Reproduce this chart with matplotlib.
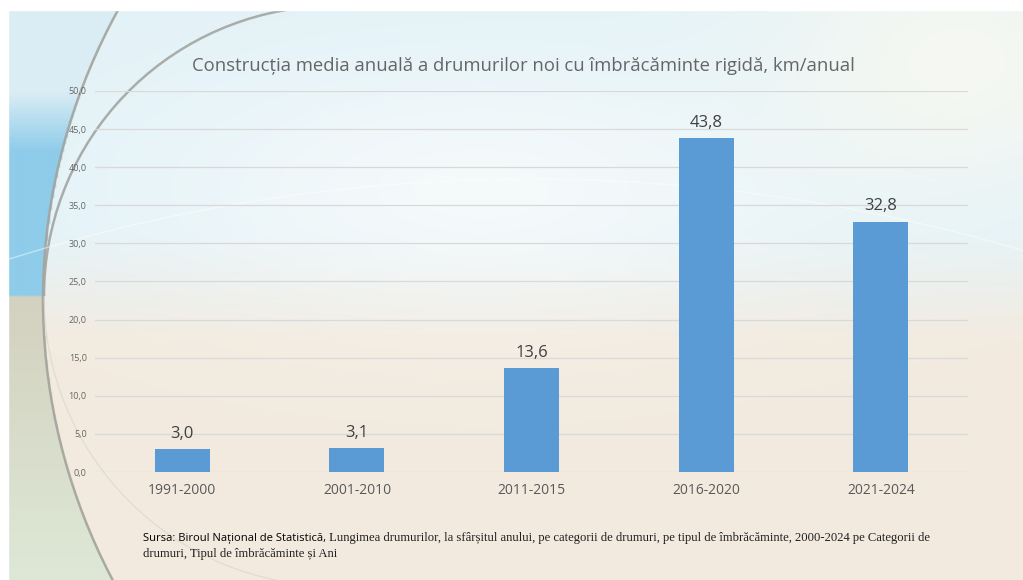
import numpy as np
import matplotlib.pyplot as plt
from matplotlib.patches import Ellipse, Arc

periods = ["1991-2000", "2001-2010", "2011-2015", "2016-2020", "2021-2024"]
km_per_year = [3.0, 3.1, 13.6, 43.8, 32.8]
y_ticks = [0, 5, 10, 15, 20, 25, 30, 35, 40, 45, 50]

title = "Construcția media anuală a drumurilor noi cu îmbrăcăminte rigidă, km/anual"
src_head = "Sursa: Biroul Național de Statistică,"
src_line1 = " Lungimea drumurilor, la sfârșitul anului, pe categorii de drumuri, pe tipul de îmbrăcăminte, 2000-2024 pe Categorii de"
src_line2 = "drumuri, Tipul de îmbrăcăminte și Ani"

plt.rcParams['font.family'] = ['Open Sans', 'DejaVu Sans']

fig = plt.figure(figsize=(10.23, 5.80), dpi=100)
fig.patch.set_facecolor("white")

# slide background drawn in pixel coordinates (decoration only)
bg = fig.add_axes([0, 0, 1, 1])
bg.set_axis_off()
bg.set_xlim(0, 1023)
bg.set_ylim(580, 0)
yy, xx = np.mgrid[10:580:2, 8:1023:2].astype(float)
top = np.array([0.89, 0.95, 0.97])
bottom = np.array([0.95, 0.92, 0.875])
t = np.clip((yy - 230) / 110, 0, 1)[..., None]
img = top * (1 - t) + bottom * t
glow = np.exp(-((xx - 480) ** 2 / 1.0e5 + (yy - 190) ** 2 / 1.6e4))[..., None]
img = img * (1 - 0.7 * glow) + 0.99 * 0.7 * glow
warm = np.exp(-((xx - 960) ** 2 / 4e4 + (yy - 60) ** 2 / 2e4))[..., None]
img = img * (1 - 0.7 * warm) + np.array([0.99, 0.98, 0.94]) * 0.7 * warm
# region left of the big arc: blue band above, grey-green below
left = (((xx - 743) / 700) ** 2 + ((yy - 300) / 644) ** 2) > 1
blue = np.array([0.56, 0.80, 0.92])
pale = np.array([0.86, 0.93, 0.96])
grey = np.array([0.83, 0.82, 0.75])
green = np.array([0.87, 0.91, 0.84])
sb = np.clip((yy - 90) / 60, 0, 1)[..., None]
upper = pale * (1 - sb) + blue * sb
sg = np.clip((yy - 300) / 280, 0, 1)[..., None]
lower = grey * (1 - sg) + green * sg
side = np.where((yy < 296)[..., None], upper, lower)
img = np.where(left[..., None], side, img)
img = np.clip(img, 0, 1)
bg.imshow(img, aspect="auto", extent=(8, 1023, 580, 10), zorder=0, interpolation="bilinear")
bg.add_patch(Ellipse((743, 300), 1400, 1288, fill=False, ec="#a3a39c", lw=1.8, alpha=0.9, zorder=1))
bg.add_patch(Arc((334, 296), 580, 580, theta1=180, theta2=262, ec="#a3a6a2", lw=1.8, alpha=0.9, zorder=1))
bg.add_patch(Arc((334, 296), 580, 580, theta1=90, theta2=180, ec="#d2cdc2", lw=0.9, alpha=0.5, zorder=1))
bg.add_patch(Ellipse((530, 1914), 3470, 3470, fill=False, ec="white", lw=1.0, alpha=0.45, zorder=1))
bg.add_patch(plt.Rectangle((0, 0), 1023, 10, color="white", zorder=2))
bg.add_patch(plt.Rectangle((0, 0), 8, 580, color="white", zorder=2))

ax = fig.add_axes([0.0929, 0.1862, 0.8534, 0.657])
ax.set_facecolor("none")
x = np.arange(len(periods))
ax.bar(x, km_per_year, width=0.315, color="#5B9BD5", zorder=3)
for xi, v in zip(x, km_per_year):
    ax.text(xi, v + 1.0, f"{v:.1f}".replace(".", ","), ha="center", va="bottom",
            fontsize=12, color="#404040")

ax.set_xlim(-0.5, len(periods) - 0.5)
ax.set_ylim(0, 50)
ax.set_yticks(y_ticks)
ax.set_yticklabels([f"{v:.1f}".replace(".", ",") for v in y_ticks], fontsize=6.5, color="#666666")
ax.set_xticks(x)
ax.set_xticklabels(periods, fontsize=10, color="#595959")
ax.tick_params(axis="both", length=0)
ax.tick_params(axis="x", pad=8)
ax.tick_params(axis="y", pad=6)
ax.grid(axis="y", color="#d9d9d9", lw=0.9, zorder=0)
for s in ax.spines.values():
    s.set_visible(False)

fig.text(0.512, 0.886, title, ha="center", va="center", fontsize=13.3, color="#666666")

t1 = fig.text(0.1398, 0.068, src_head, fontsize=8.1, color="black", va="baseline")
ax.annotate(src_line1, xy=(1, 0), xycoords=t1, va="bottom", ha="left",
            fontsize=9.1, color="#202020", family="Liberation Serif")
fig.text(0.1398, 0.039, src_line2, fontsize=9.1, color="#202020", va="baseline",
         family="Liberation Serif")

fig.savefig("out.png", dpi=100)
